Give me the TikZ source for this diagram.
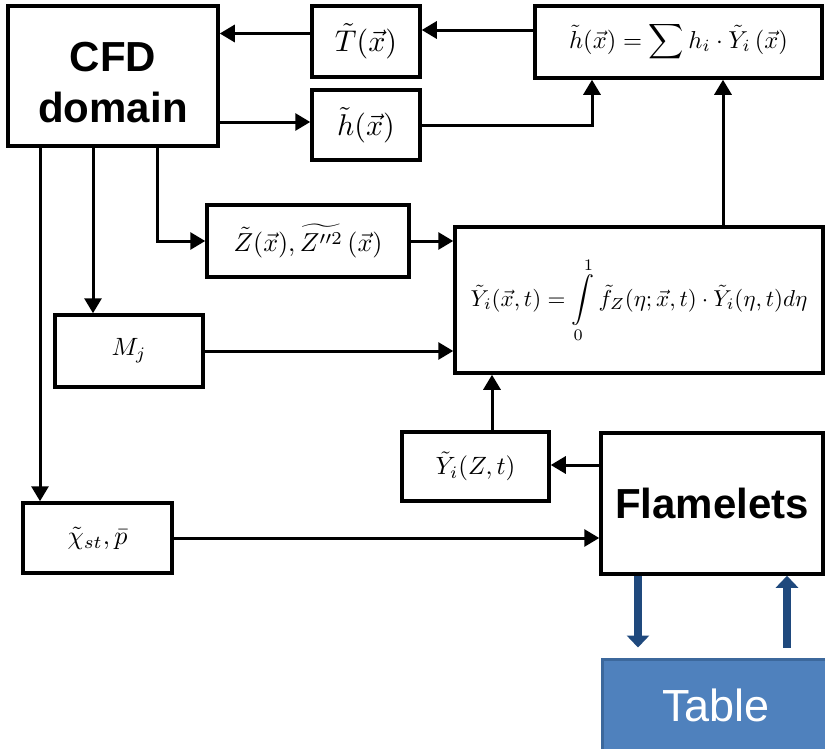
\documentclass[tikz,border=0pt]{standalone}
\usepackage{graphicx}
\usepackage{fontspec}
\newfontfamily\arial{Liberation Sans}
\usetikzlibrary{arrows.meta}
\definecolor{tblfill}{RGB}{79,129,189}
\definecolor{tbledge}{RGB}{60,104,156}
\definecolor{flowblue}{RGB}{31,73,125}
\newcommand{\eqn}[2]{\scalebox{#1}{$#2$}}
\tikzset{
  blk/.style={draw=black, line width=3.5pt, fill=white, inner sep=0pt},
  bigsans/.style={font=\arial\bfseries\fontsize{42}{46}\selectfont},
  arr/.style={line width=3pt, -{Triangle[length=15pt,width=17pt]}},
  bluearr/.style={draw=flowblue, line width=8pt, -{Triangle[length=12pt,width=22pt]}},
}
\begin{document}
\begin{tikzpicture}[x=1pt,y=-1pt]
\useasboundingbox (0,0) rectangle (825,748);
\clip (0,0) rectangle (825,748);

% boxes
\node[blk, minimum width=210, minimum height=140] (cfd) at (113,76) {};
\node[bigsans, align=center, inner sep=0pt] (cfdtxt) at ([yshift=-7pt]cfd.center) {CFD\\[5pt]domain};
\node[blk, minimum width=108, minimum height=71] (T) at (366,41.5) {\eqn{3.0}{\tilde{T}(\vec{x})}};
\node[blk, minimum width=108, minimum height=70] (h) at (366,125) {\eqn{3.0}{\tilde{h}(\vec{x})}};
\node[blk, minimum width=287, minimum height=72] (hsum) at (678.5,42) {\eqn{2.45}{\tilde{h}(\vec{x})=\displaystyle\sum h_i\cdot\tilde{Y}_i\,(\vec{x})}};
\node[blk, minimum width=202, minimum height=72] (Z) at (308,241) {\eqn{2.6}{\tilde{Z}(\vec{x}),\widetilde{Z''^2}\,(\vec{x})}};
\node[blk, minimum width=148, minimum height=72] (Mj) at (129,351) {\eqn{2.5}{M_j}};
\node[blk, minimum width=368, minimum height=146] (int) at (639,300) {\eqn{2.3}{\tilde{Y}_i(\vec{x},t)=\displaystyle\int\limits_0^1\tilde{f}_Z(\eta;\vec{x},t)\cdot\tilde{Y}_i(\eta,t)d\eta}};
\node[blk, minimum width=147, minimum height=69] (YZ) at (475.5,466.5) {\eqn{2.5}{\tilde{Y}_i(Z,t)}};
\node[blk, bigsans, minimum width=222, minimum height=141] (flam) at (712,503.5) {Flamelets};
\node[blk, minimum width=149, minimum height=70] (chi) at (97.5,538) {\eqn{2.6}{\tilde{\chi}_{st},\bar{p}}};
\node[draw=tbledge, fill=tblfill, line width=3pt, minimum width=228, minimum height=92, inner sep=0pt, text=white, font=\arial\fontsize{45}{50}\selectfont] (table) at (716,705) {Table};

% connectors along the top
\draw[arr] ([yshift=12]hsum.west) -- ([yshift=12]hsum.west -| T.east);
\draw[arr] ([yshift=8]T.west) -- ([yshift=8]T.west -| cfd.east);
\draw[arr] ([yshift=3]h.west -| cfd.east) -- ([yshift=3]h.west);
\draw[arr] (h.east) -| ([xshift=-86.5]hsum.south);
\coordinate (up) at ([xshift=84]int.north);
\draw[arr] (up) -- (up |- hsum.south);

% branches leaving the CFD domain
\draw[arr] ([xshift=44]cfd.south) |- (Z.west);
\draw[arr] ([xshift=-20]cfd.south) -- ([xshift=-20]cfd.south |- Mj.north);
\draw[arr] ([xshift=-73]cfd.south) -- ([xshift=-73]cfd.south |- chi.north);

% inputs of the integral
\draw[arr] (Z.east) -- (Z.east -| int.west);
\draw[arr] (Mj.east) -- (Mj.east -| int.west);
\draw[arr] ([xshift=16.5]YZ.north) -- ([xshift=16.5]YZ.north |- int.south);

% flamelet links
\draw[arr] ([yshift=38.5]flam.west) -- ([yshift=38.5]flam.west -| YZ.east);
\draw[arr] (chi.east) -- (chi.east -| flam.west);

% table exchange
\coordinate (tn) at ([yshift=10]table.north);
\draw[bluearr] ([xshift=-74]flam.south) -- ([xshift=-74]flam.south |- tn);
\draw[bluearr] ([xshift=75]flam.south |- tn) -- ([xshift=75]flam.south);
\end{tikzpicture}
\end{document}
